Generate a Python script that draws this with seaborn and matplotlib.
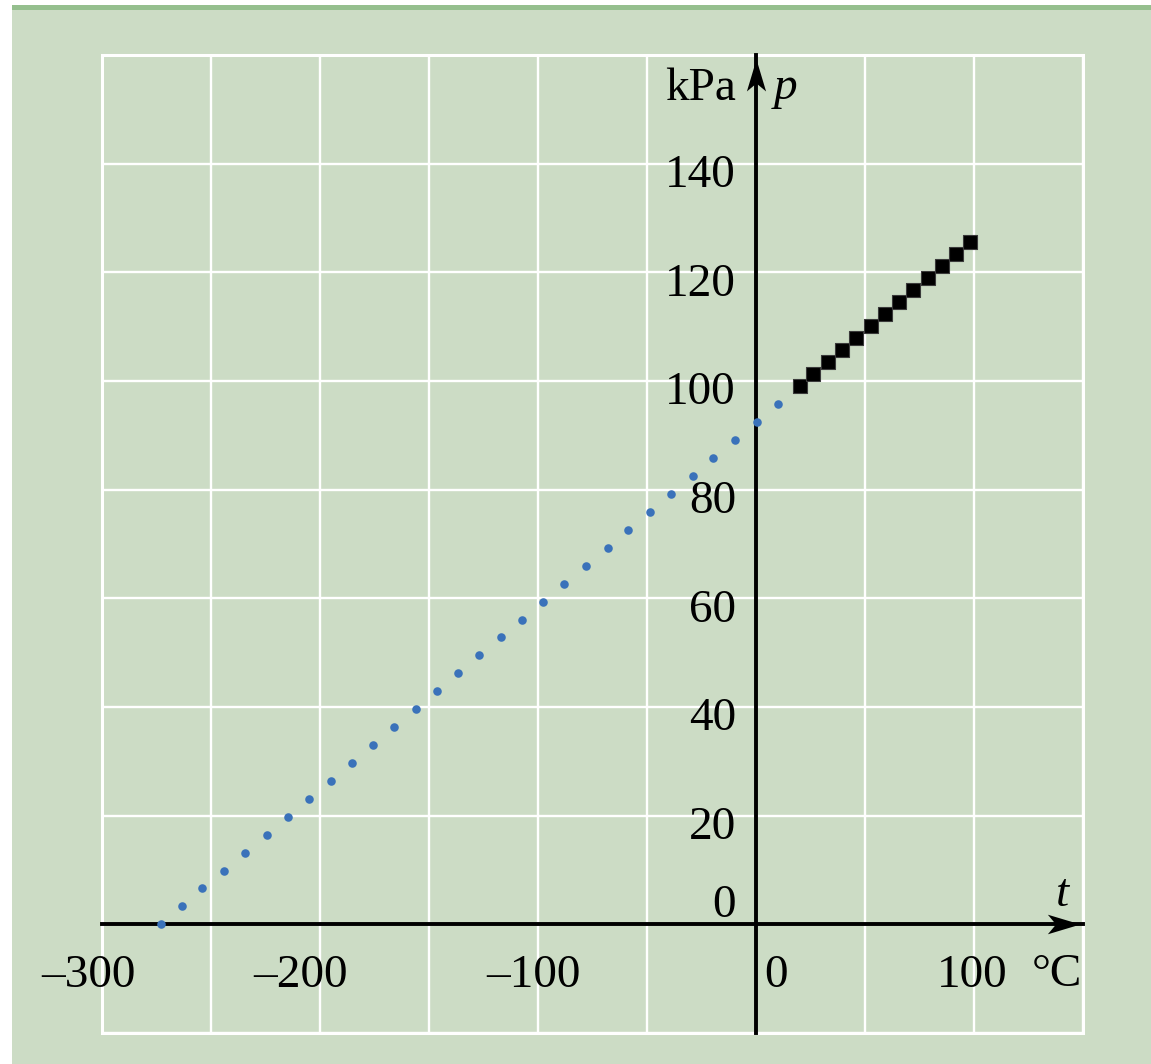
import matplotlib
matplotlib.use("Agg")
import matplotlib.pyplot as plt
from matplotlib.path import Path
from matplotlib.patches import Rectangle
import pandas as pd
import seaborn as sns

# Extrapolated pressure readings toward absolute zero (t in °C, p in kPa)
extrap_t = [-273, -263.5, -254, -244, -234.5, -224.5, -214.5, -205, -195, -185.5,
            -175.5, -166, -156, -146.5, -136.5, -127, -117, -107.5, -97.5, -88,
            -78, -68, -58.5, -48.5, -39, -29, -19.5, -9.5, 0.5, 10]
extrap_p = [0, 3.3, 6.6, 9.9, 13.2, 16.5, 19.8, 23.1, 26.4, 29.7,
            33.0, 36.3, 39.6, 42.9, 46.2, 49.5, 52.8, 56.1, 59.4, 62.7,
            66.0, 69.3, 72.6, 75.9, 79.2, 82.5, 85.8, 89.1, 92.4, 95.7]

# Measured readings
meas_t = [20, 26.3, 32.9, 39.4, 46.0, 52.6, 59.0, 65.6, 72.2, 78.8, 85.2, 91.7, 98.2]
meas_p = [99.1, 101.3, 103.5, 105.7, 107.9, 110.1, 112.3, 114.5, 116.7, 118.9,
          121.1, 123.3, 125.5]

x_ticks = [-300, -200, -100, 0, 100]
x_tick_labels = ["\u2013300", "\u2013200", "\u2013100", "0", "100"]
y_ticks = [20, 40, 60, 80, 100, 120, 140]
y_tick_labels = ["20", "40", "60", "80", "100", "120", "140"]

BG = "#ccdcc5"
STRIP = "#95bf8e"
BLUE = "#3a72ba"
FS = 34

sns.set_theme(style="darkgrid", rc={
    "axes.facecolor": BG,
    "grid.color": "white",
    "grid.linewidth": 1.7,
    "figure.facecolor": "white",
    "text.color": "black",
})
plt.rcParams["font.family"] = ["Liberation Serif", "DejaVu Serif"]

W, H = 1151, 1064
fig = plt.figure(figsize=(W / 100, H / 100), dpi=100)
fig.patches.append(Rectangle((12 / W, 0), 1, 1 - 10 / H, transform=fig.transFigure,
                             facecolor=BG, edgecolor="none", zorder=-10))
fig.patches.append(Rectangle((12 / W, 1 - 10 / H), 1, 5 / H, transform=fig.transFigure,
                             facecolor=STRIP, edgecolor="none", zorder=-10))

ax = fig.add_axes([102 / W, 1 - 1033 / H, (1083 - 102) / W, (1033 - 55) / H])
ax.patch.set_edgecolor("white")
ax.patch.set_linewidth(2.2)

extrap = pd.DataFrame({"t": extrap_t, "p": extrap_p})
meas = pd.DataFrame({"t": meas_t, "p": meas_p})

sns.scatterplot(data=extrap, x="t", y="p", ax=ax, color=BLUE, s=38,
                linewidth=0, zorder=4, clip_on=False)
sns.scatterplot(data=meas, x="t", y="p", ax=ax, color="black", marker="s", s=95,
                edgecolor="#3a3a3a", linewidth=0.8, zorder=4)

ax.set_xlim(-300, 150)
ax.set_ylim(-20, 160)
ax.set_xticks(range(-300, 151, 50))
ax.set_yticks(range(-20, 161, 20))
ax.tick_params(length=0, labelbottom=False, labelleft=False)
ax.set_xlabel("")
ax.set_ylabel("")

# Axes through the origin
for side in ("top", "right"):
    ax.spines[side].set_visible(False)
for side in ("left", "bottom"):
    ax.spines[side].set_position(("data", 0))
    ax.spines[side].set_color("black")
    ax.spines[side].set_linewidth(2.8)
    ax.spines[side].set_zorder(3)

# Stealth-style arrowheads at the ends of both axes
head_right = Path([(0, 0), (-1, 0.3), (-0.75, 0), (-1, -0.3), (0, 0)],
                  [Path.MOVETO, Path.LINETO, Path.LINETO, Path.LINETO, Path.CLOSEPOLY])
head_up = Path([(0, 0), (0.3, -1), (0, -0.75), (-0.3, -1), (0, 0)],
               [Path.MOVETO, Path.LINETO, Path.LINETO, Path.LINETO, Path.CLOSEPOLY])
ax.plot([148.8], [0], marker=head_right, markersize=47, color="black",
        markeredgewidth=0, clip_on=False, zorder=5)
ax.plot([0], [159.3], marker=head_up, markersize=46, color="black",
        markeredgewidth=0, clip_on=False, zorder=5)

# Tick labels
x_label_pos = [-306, -209, -102, 3.7, 99]
for pos, lab in zip(x_label_pos, x_tick_labels):
    ha = "left" if lab == "0" else "center"
    ax.text(pos, -11.6, lab, ha=ha, va="baseline", fontsize=FS, zorder=6)
for val, lab in zip(y_ticks, y_tick_labels):
    ax.text(-9.2, val - 4.3, lab, ha="right", va="baseline", fontsize=FS, zorder=6)
ax.text(-9.2, 1.3, "0", ha="right", va="baseline", fontsize=FS, zorder=6)

# Axis names and units
ax.text(-9.2, 151.7, "kPa", ha="right", va="baseline", fontsize=FS, zorder=6)
ax.text(8.3, 151.9, "p", ha="left", va="baseline", fontsize=FS, style="italic", zorder=6)
ax.text(137.6, 3.3, "t", ha="left", va="baseline", fontsize=FS, style="italic", zorder=6)
ax.text(126.6, -11.4, "\u00b0C", ha="left", va="baseline", fontsize=FS, zorder=6,
        clip_on=False)

fig.savefig("out.png", dpi=100)
